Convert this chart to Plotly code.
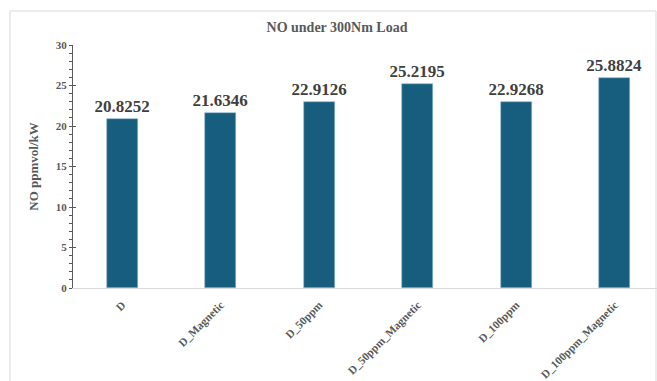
import plotly.graph_objects as go

categories = ["D", "D_Magnetic", "D_50ppm", "D_50ppm_Magnetic", "D_100ppm", "D_100ppm_Magnetic"]
values = [20.8252, 21.6346, 22.9126, 25.2195, 22.9268, 25.8824]
labels = ["20.8252", "21.6346", "22.9126", "25.2195", "22.9268", "25.8824"]

FONT = "Liberation Serif"
W, H = 657, 381
L, R, T, B = 73, 0, 45, 93
pw = W - L - R
ph = H - T - B
cat_px = 98.5

fig = go.Figure()
fig.add_trace(go.Bar(
    x=categories, y=values, text=labels, textposition="outside",
    constraintext="none",
    textfont=dict(family=FONT, size=17, color="#404040", weight="bold"),
    cliponaxis=False,
    marker=dict(color="#175E7E", line=dict(color="#8fb8cc", width=0.6)),
    width=0.315,
))
# helper invisible trace on overlay axis for crossing ticks
fig.add_trace(go.Scatter(x=[categories[0]], y=[0], yaxis="y2", mode="markers",
                         marker=dict(opacity=0), showlegend=False, hoverinfo="skip"))

fig.update_layout(
    width=W, height=H,
    margin=dict(l=L, r=R, t=T, b=B, autoexpand=False),
    paper_bgcolor="white", plot_bgcolor="white",
    showlegend=False,
    bargap=0,
    title=dict(text="<b>NO under 300Nm Load</b>", x=337 / W, xanchor="center",
               y=1 - 27 / H, yanchor="middle",
               font=dict(family=FONT, size=14, color="#595959")),
    xaxis=dict(
        range=[-0.5, -0.5 + pw / cat_px], automargin=False,
        showline=True, linecolor="#d9d9d9", linewidth=1,
        showgrid=False, ticks="outside", ticklen=5, tickcolor="rgba(0,0,0,0)",
        tickangle=-45,
        tickfont=dict(family=FONT, size=11.3, color="#595959", weight="bold"),
    ),
    yaxis=dict(
        range=[0, 30], dtick=5, showgrid=False, zeroline=False, automargin=False,
        showline=True, linecolor="#595959", linewidth=1,
        ticks="outside", ticklen=3, tickcolor="#595959", tickwidth=1,
        minor=dict(dtick=1, ticks="outside", ticklen=3, tickcolor="#595959", tickwidth=1),
        tickfont=dict(family=FONT, size=11, color="#595959", weight="bold"),
        title=dict(text="<b>NO ppmvol/kW</b>", standoff=14,
                   font=dict(family=FONT, size=13, color="#595959")),
    ),
    yaxis2=dict(
        overlaying="y", side="left", range=[0, 30], dtick=5, automargin=False,
        showgrid=False, zeroline=False, showline=False,
        ticks="inside", ticklen=3, tickcolor="#595959", tickwidth=1,
        showticklabels=False,
    ),
    shapes=[dict(
        type="rect", xref="paper", yref="paper",
        x0=(10 - L) / pw, x1=(656 - L) / pw,
        y0=-(H + 10 - (H - B)) / ph, y1=(H - B - 11) / ph,
        line=dict(color="#d9d9d9", width=1), fillcolor="rgba(0,0,0,0)", layer="below",
    )],
)

fig.write_html("out.html")
